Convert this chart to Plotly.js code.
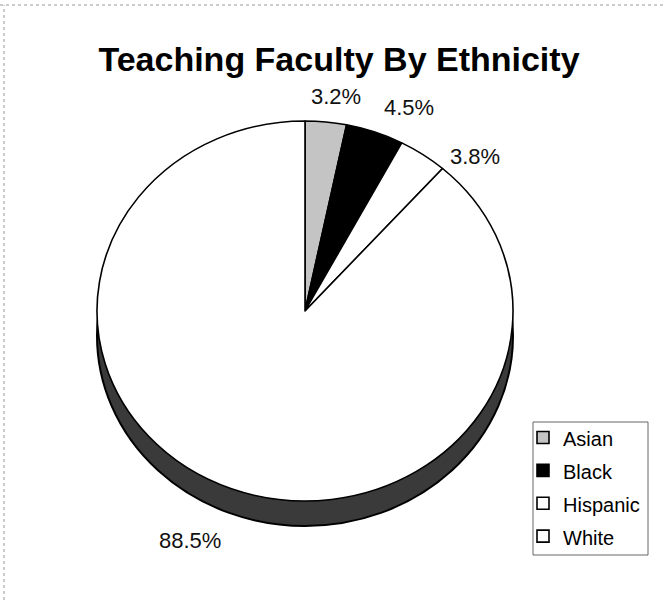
<!DOCTYPE html>
<html>
<head>
<meta charset="utf-8">
<script src="https://cdn.plot.ly/plotly-3.0.1.min.js"></script>
<style>html,body{margin:0;padding:0;background:#fff;}#chart{width:665px;height:600px;}</style>
</head>
<body>
<div id="chart"></div>
<script>
// ---- Data ----
var categories = ["Asian", "Black", "Hispanic", "White"];
var percents = [3.2, 4.5, 3.8, 88.5];
var chartTitle = "Teaching Faculty By Ethnicity";

// ---- Styles / layout config (not data) ----
var sliceColors = ["#c4c4c4", "#000000", "#ffffff", "#ffffff"];
var labelPos = [[336, 96], [409, 108], [475, 156], [190, 540]]; // pixel centres of % labels
var W = 665, H = 600;
function px(x){ return x / W; }
function py(y){ return 1 - y / H; }

// tilted pie geometry (pixels)
var cx = 305, cy = 311, rx = 208, ry = 190, depth = 25;
var FONT = "Liberation Sans, Arial, Helvetica, sans-serif";

var legendNames = categories.map(function(c){ return '<span style="font-size:20px">' + c + '</span>'; });

var trace = {
  type: "pie",
  labels: legendNames,
  values: percents,
  sort: false,
  direction: "clockwise",
  rotation: 0,
  marker: { colors: sliceColors, line: { color: "#000", width: 1.6 } },
  textinfo: "none",
  hoverinfo: "none",
  domain: { x: [px(cx - rx), px(cx + rx)], y: [py(cy + rx), py(cy - rx)] },
  automargin: false,
  showlegend: true
};

var annotations = percents.map(function(v, i){
  return {
    text: v.toFixed(1) + "%",
    xref: "paper", yref: "paper",
    x: px(labelPos[i][0]), y: py(labelPos[i][1]),
    xanchor: "center", yanchor: "middle",
    showarrow: false,
    font: { family: FONT, size: 22, color: "#111" }
  };
});

var layout = {
  width: W, height: H,
  margin: { l: 0, r: 0, t: 0, b: 0 },
  paper_bgcolor: "#ffffff",
  font: { family: FONT, color: "#000" },
  title: {
    text: chartTitle,
    font: { family: FONT, size: 34, weight: "bold", color: "#000" },
    x: px(339), xanchor: "center", xref: "paper",
    y: py(59), yanchor: "middle", yref: "container"
  },
  legend: {
    x: px(523), xanchor: "left",
    y: py(416), yanchor: "top",
    borderwidth: 0,
    bgcolor: "rgba(255,255,255,0)",
    font: { family: FONT, size: 23, color: "#000" },
    traceorder: "normal"
  },
  annotations: annotations,
  shapes: [
    // side (depth) of the tilted pie, visible below the top face
    { type: "circle", xref: "paper", yref: "paper", layer: "below",
      x0: px(cx - rx), x1: px(cx + rx), y0: py(cy + ry + depth), y1: py(cy - ry + depth),
      fillcolor: "#3a3a3a", line: { color: "#000", width: 2 } },
    // legend frame
    { type: "rect", xref: "paper", yref: "paper", layer: "above",
      x0: px(533), x1: px(648), y0: py(555), y1: py(422),
      line: { color: "#666", width: 1 } },
    // faint page frame
    { type: "line", xref: "paper", yref: "paper", x0: 0, x1: 1, y0: py(5), y1: py(5),
      line: { color: "#999", width: 1, dash: "dot" } },
    { type: "line", xref: "paper", yref: "paper", x0: px(4), x1: px(4), y0: 0, y1: py(5),
      line: { color: "#999", width: 1, dash: "dot" } }
  ]
};

Plotly.newPlot("chart", [trace], layout, { displayModeBar: false, staticPlot: true }).then(function(gd){
  // tilt the pie: squash it vertically about its centre
  var g = gd.querySelector(".pielayer");
  if (g) {
    g.setAttribute("transform", "translate(0," + cy + ") scale(1," + (ry / rx) + ") translate(0," + (-cy) + ")");
  }
});
</script>
</body>
</html>
